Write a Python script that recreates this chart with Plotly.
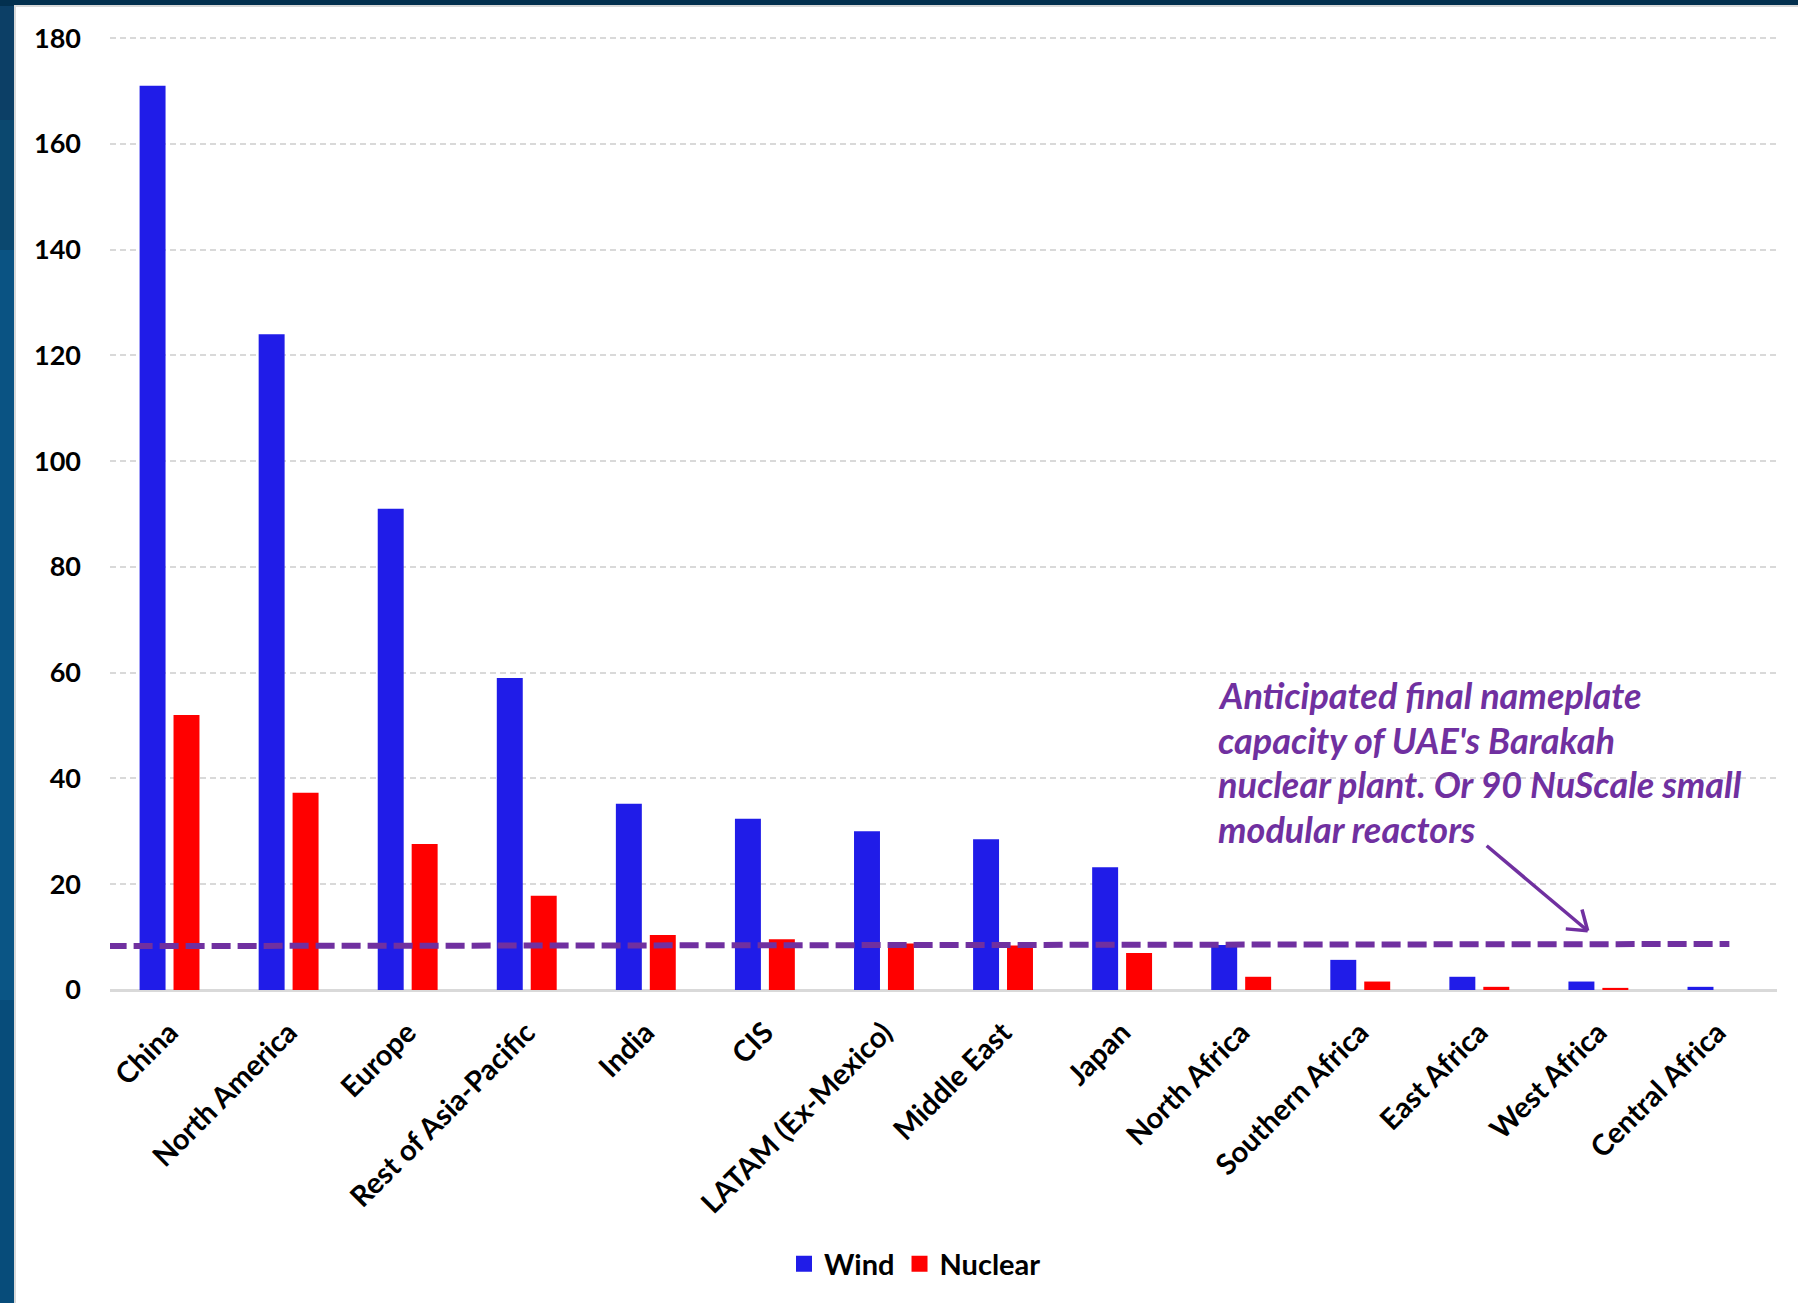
import plotly.graph_objects as go

# ---------------- data ----------------
categories = ["China", "North America", "Europe", "Rest of Asia-Pacific", "India", "CIS",
              "LATAM (Ex-Mexico)", "Middle East", "Japan", "North Africa",
              "Southern Africa", "East Africa", "West Africa", "Central Africa"]
wind = [171, 124, 91, 59, 35.2, 32.4, 30, 28.5, 23.2, 8.5, 5.7, 2.5, 1.6, 0.6]
nuclear = [52, 37.3, 27.6, 17.8, 10.4, 9.6, 8.8, 8.4, 7.0, 2.5, 1.6, 0.6, 0.4, 0]
y_ticks = [0, 20, 40, 60, 80, 100, 120, 140, 160, 180]
barakah_level = [8.3, 8.7]          # dashed reference line (left end, right end)
note_lines = ["Anticipated final nameplate",
              "capacity of UAE's Barakah",
              "nuclear plant. Or 90 NuScale small",
              "modular reactors"]

# ---------------- layout helpers ----------------
W, H = 1798, 1303
PL, PR, PT, PB = 110, 1777, 37, 990
Y_MAX = 180.2
def px(xp):
    return (xp - PL) / (PR - PL)
def py(yp):
    return (PB - yp) / (PB - PT)

FONT = "Lato"
WIND_C = "#201CE8"
NUC_C = "#FF0000"
PURPLE = "#7030A0"

fig = go.Figure()
fig.add_trace(go.Bar(x=categories, y=wind, name="Wind", marker_color=WIND_C,
                     marker_line_width=0, showlegend=False))
fig.add_trace(go.Bar(x=categories, y=nuclear, name="Nuclear", marker_color=NUC_C,
                     marker_line_width=0, showlegend=False))
# legend entries (square markers)
fig.add_trace(go.Scatter(x=[None], y=[None], mode="markers", name="Wind",
                         marker=dict(symbol="square", size=16, color=WIND_C)))
fig.add_trace(go.Scatter(x=[None], y=[None], mode="markers", name="Nuclear",
                         marker=dict(symbol="square", size=16, color=NUC_C)))

shapes = []
# frame background pieces
shapes.append(dict(type="rect", xref="paper", yref="paper", layer="below",
                   x0=px(0), x1=px(W + 10), y0=py(-10), y1=py(H + 10),
                   fillcolor="#0A5283", line_width=0))
for (y0p, y1p, col) in [(0, 120, "#0C3F66"), (120, 250, "#0B486F"), (250, 650, "#0A5383"),
                        (650, 1000, "#0A5585"), (1000, 1310, "#074C7A")]:
    shapes.append(dict(type="rect", xref="paper", yref="paper", layer="below",
                       x0=px(-5), x1=px(15), y0=py(y1p), y1=py(y0p),
                       fillcolor=col, line_width=0))
shapes.append(dict(type="rect", xref="paper", yref="paper", layer="below",
                   x0=px(-5), x1=px(W + 10), y0=py(6), y1=py(-10),
                   fillcolor="#03304F", line_width=0))
shapes.append(dict(type="rect", xref="paper", yref="paper", layer="below",
                   x0=px(15), x1=px(W + 20), y0=py(H + 20), y1=py(6),
                   fillcolor="white", line=dict(color="#D9D9D9", width=2)))

# dashed purple reference line
shapes.append(dict(type="line", xref="x", yref="y", layer="above",
                   x0=-0.52, x1=13.1, y0=barakah_level[0], y1=barakah_level[1],
                   line=dict(color=PURPLE, width=6, dash="19px,7px")))

# arrow (tip anchored in data space, shaft and head in pixels)
tip_x, tip_y = 11.91, 11.2
for (dx, dy) in [(-101, 85), (-5.7, 21.2), (-21.9, 1.9)]:
    shapes.append(dict(type="line", xref="x", yref="y", layer="above",
                       xsizemode="pixel", ysizemode="pixel",
                       xanchor=tip_x, yanchor=tip_y,
                       x0=0, y0=0, x1=dx, y1=dy,
                       line=dict(color=PURPLE, width=3.5)))

annotations = []
line_y = [695, 740, 784, 829]
for t, yy in zip(note_lines, line_y):
    annotations.append(dict(xref="paper", yref="paper", x=px(1216), y=py(yy),
                            xanchor="left", yanchor="middle", showarrow=False,
                            text=t, align="left",
                            font=dict(family=FONT, size=36, color=PURPLE,
                                      weight=700, style="italic")))

fig.update_layout(
    width=W, height=H,
    margin=dict(l=PL, r=W - PR, t=PT, b=H - PB, pad=0),
    paper_bgcolor="#0A5283",
    plot_bgcolor="white",
    barmode="group", bargap=0.43, bargroupgap=0.235,
    font=dict(family=FONT, size=27, color="black", weight=700),
    shapes=shapes, annotations=annotations,
    legend=dict(orientation="h", x=px(915), y=py(1264), xanchor="center",
                yanchor="middle", font=dict(family=FONT, size=29, color="black", weight=700),
                bgcolor="rgba(0,0,0,0)", itemwidth=30),
    xaxis=dict(type="category", tickangle=-45, showgrid=False,
               showline=True, linecolor="#D9D9D9", linewidth=2,
               ticks="", tickfont=dict(family=FONT, size=29, color="black", weight=700),
               ticklabelstandoff=12, range=[-0.5, 13.5]),
    yaxis=dict(range=[0, Y_MAX], tickvals=y_ticks, showgrid=True,
               gridcolor="#D9D9D9", gridwidth=1.5, griddash="6px,4px",
               zeroline=True, zerolinecolor="#D9D9D9", zerolinewidth=2,
               showline=False, ticks="",
               tickfont=dict(family=FONT, size=27, color="black", weight=700),
               ticklabelstandoff=28),
)

fig.write_html("out.html")
